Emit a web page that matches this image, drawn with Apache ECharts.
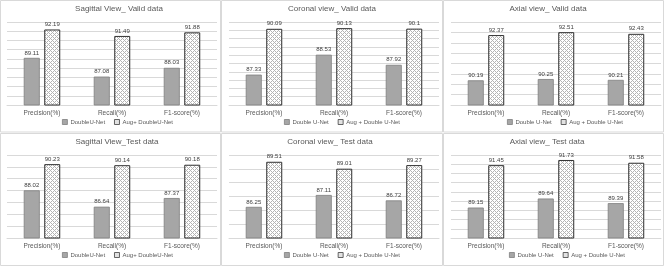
<!DOCTYPE html>
<html><head><meta charset="utf-8">
<script src="https://cdn.jsdelivr.net/npm/echarts@6/dist/echarts.min.js"></script>
<style>html,body{margin:0;padding:0;background:#fff}#c{width:664px;height:266px}</style>
</head><body><div id="c"></div>
<script>
const categories = ['Precision(%)', 'Recall(%)', 'F1-score(%)'];

const titles = ['Sagittal View_ Valid data', 'Coronal view_ Valid data', 'Axial view_ Valid data',
                'Sagittal View_Test data', 'Coronal view_ Test data', 'Axial view_ Test data'];
const nameDouble = ['DoubleU-Net', 'Double U-Net', 'Double U-Net', 'DoubleU-Net', 'Double U-Net', 'Double U-Net'];
const nameAug = ['Aug+ DoubleU-Net', 'Aug + Double U-Net', 'Aug + Double U-Net', 'Aug+ DoubleU-Net', 'Aug + Double U-Net', 'Aug + Double U-Net'];

const sagValidDouble = [89.11, 87.08, 88.03];
const sagValidAug    = [92.19, 91.49, 91.88];
const corValidDouble = [87.33, 88.53, 87.92];
const corValidAug    = [90.09, 90.13, 90.1];
const axValidDouble  = [90.19, 90.25, 90.21];
const axValidAug     = [92.37, 92.51, 92.43];
const sagTestDouble  = [88.02, 86.64, 87.37];
const sagTestAug     = [90.23, 90.14, 90.18];
const corTestDouble  = [86.25, 87.11, 86.72];
const corTestAug     = [89.51, 89.01, 89.27];
const axTestDouble   = [89.15, 89.64, 89.39];
const axTestAug      = [91.45, 91.73, 91.58];

const axisMin = [84, 85.5, 89, 84, 84, 87.5];
const axisMax = [93, 90.5, 93, 91, 90, 92];
const axisInterval = [1, 0.5, 0.5, 1, 1, 0.5];

const doubleData = [sagValidDouble, corValidDouble, axValidDouble, sagTestDouble, corTestDouble, axTestDouble];
const augData = [sagValidAug, corValidAug, axValidAug, sagTestAug, corTestAug, axTestAug];

// pattern for Aug bars
const pc = document.createElement('canvas');
pc.width = 4; pc.height = 4;
const pctx = pc.getContext('2d');
pctx.fillStyle = '#ffffff'; pctx.fillRect(0, 0, 4, 4);
pctx.fillStyle = '#b4b4b4';
for (let x = 0; x < 4; x++) for (let y = 0; y < 4; y++) {
  if ((x + y) % 4 === 0 || ((x - y) % 4 + 4) % 4 === 0) pctx.fillRect(x, y, 1, 1);
}
const pattern = { image: pc, repeat: 'repeat' };

const FONT = "'Liberation Sans Narrow','Liberation Sans',sans-serif";
const panelX = [0, 222, 444];
const panelY = [0, 133];
const titleX = [119, 332, 548, 117, 330, 547];
const legendX = [62, 284, 507, 62, 284, 509];

const option = { animation: false, title: [], legend: [], grid: [], xAxis: [], yAxis: [], series: [], graphic: [] };

const borders = [[0.5, 0.5, 220, 131.5], [221.5, 0.5, 221, 131.5], [443.5, 0.5, 220, 131.5],
                 [0.5, 133.5, 220, 132], [221.5, 133.5, 221, 132], [443.5, 133.5, 220, 132]];
borders.forEach(b => option.graphic.push({ type: 'rect', shape: { x: b[0], y: b[1], width: b[2], height: b[3] },
  style: { fill: 'none', stroke: '#d9d9d9', lineWidth: 1 }, silent: true }));

for (let i = 0; i < 6; i++) {
  const px = panelX[i % 3], py = panelY[Math.floor(i / 3)];
  option.title.push({ text: titles[i], left: titleX[i], top: py + 5, textAlign: 'center', padding: 0,
    textStyle: { fontSize: 8, fontWeight: 'normal', color: '#595959', fontFamily: FONT } });
  option.grid.push({ left: px + 7, width: 210, top: py + 22, height: 83 });
  option.xAxis.push({ type: 'category', gridIndex: i, data: categories,
    axisLine: { lineStyle: { color: '#d9d9d9' } }, axisTick: { show: false },
    axisLabel: { fontSize: 6.5, color: '#595959', fontFamily: FONT, margin: 5 } });
  option.yAxis.push({ type: 'value', gridIndex: i, min: axisMin[i], max: axisMax[i], interval: axisInterval[i],
    axisLabel: { show: false }, axisLine: { show: false }, axisTick: { show: false },
    splitLine: { lineStyle: { color: '#d9d9d9', width: 1 } } });
  const lbl = { show: true, position: 'top', distance: 2, fontSize: 6, color: '#404040', fontFamily: FONT,
    formatter: p => String(p.value) };
  option.series.push({ type: 'bar', name: nameDouble[i], xAxisIndex: i, yAxisIndex: i, data: doubleData[i],
    barWidth: 16, barGap: '28%',
    itemStyle: { color: '#a6a6a6', borderColor: '#7f7f7f', borderWidth: 0.8 }, label: lbl });
  option.series.push({ type: 'bar', name: nameAug[i], xAxisIndex: i, yAxisIndex: i, data: augData[i],
    barWidth: 16, barGap: '28%',
    itemStyle: { color: pattern, borderColor: '#303030', borderWidth: 1 }, label: lbl });
  option.legend.push({
    data: [
      { name: nameDouble[i], itemStyle: { color: '#a6a6a6', borderColor: '#7f7f7f', borderWidth: 0.8 } },
      { name: nameAug[i], itemStyle: { color: '#e2e2e2', borderColor: '#404040', borderWidth: 0.8 } }
    ],
    left: legendX[i], top: py + 119, padding: 0,
    orient: 'horizontal', icon: 'rect',
    itemWidth: 5, itemHeight: 5, itemGap: 9,
    textStyle: { fontSize: 6, color: '#595959', fontFamily: FONT, padding: [0, 0, 0, -2] } });
}

const chart = echarts.init(document.getElementById('c'), null, { renderer: 'canvas' });
chart.setOption(option);
</script></body></html>
